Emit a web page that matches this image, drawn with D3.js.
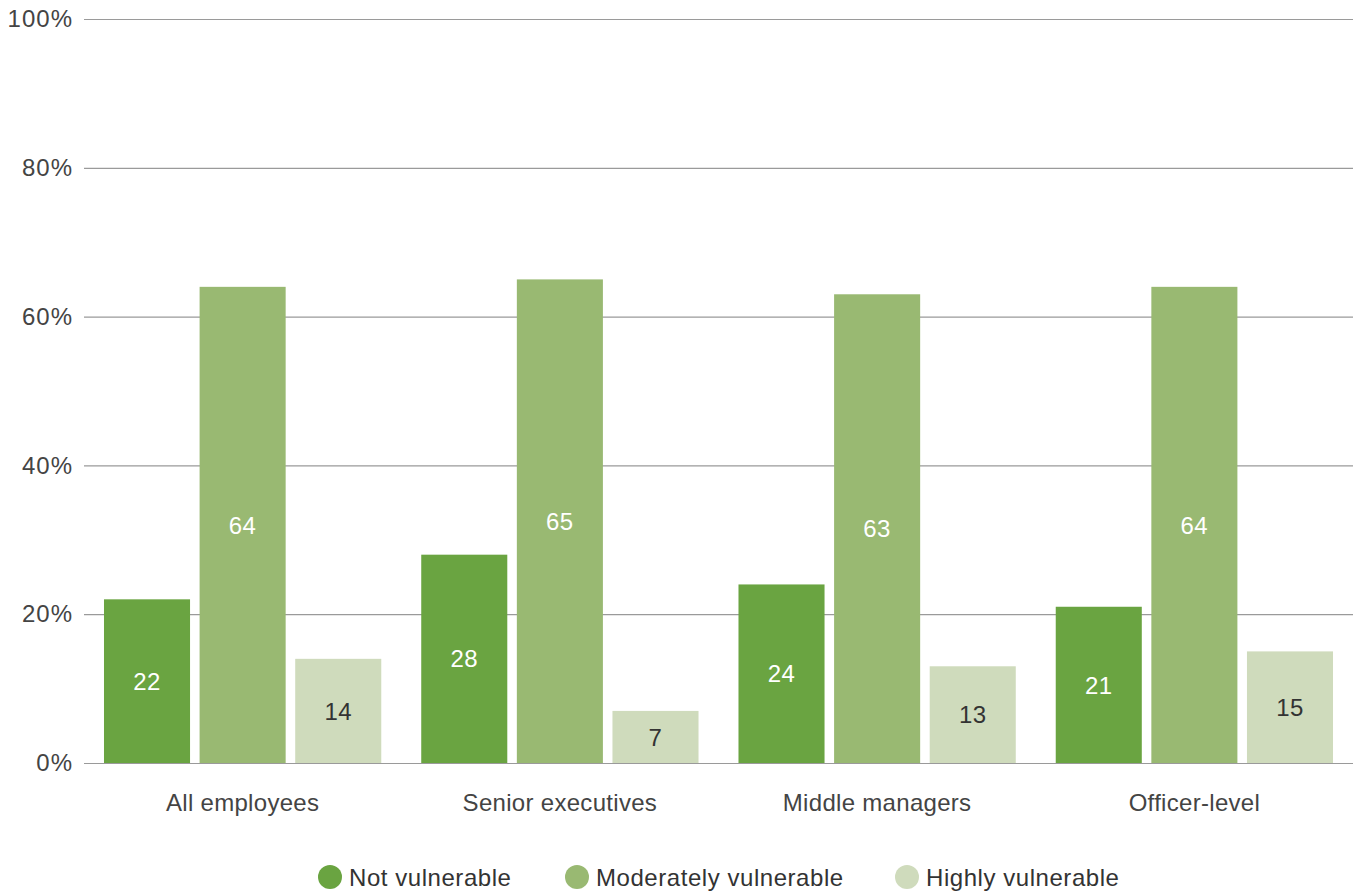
<!DOCTYPE html>
<html>
<head>
<meta charset="utf-8">
<script src="https://cdn.jsdelivr.net/npm/d3@7"></script>
<style>
  html, body { margin: 0; padding: 0; background: #fff; }
  svg { display: block; font-family: "Liberation Sans", Arial, Helvetica, sans-serif; }
</style>
</head>
<body>
<svg id="chart" width="1362" height="893"></svg>
<script>
// Share of employees by vulnerability level, per staff group (%)
const categories = ["All employees", "Senior executives", "Middle managers", "Officer-level"];
const seriesNames = ["Not vulnerable", "Moderately vulnerable", "Highly vulnerable"];
const notVulnerable = [22, 28, 24, 21];
const moderatelyVulnerable = [64, 65, 63, 64];
const highlyVulnerable = [14, 7, 13, 15];
const yTicks = [0, 20, 40, 60, 80, 100];

const seriesValues = [notVulnerable, moderatelyVulnerable, highlyVulnerable];
const colors = ["#6aa441", "#99b972", "#cfdbbc"];
const labelColors = ["#ffffff", "#ffffff", "#333333"];

const svg = d3.select("#chart");
const plotLeft = 84, plotRight = 1353, plotTop = 19, plotBottom = 763;

const x = d3.scaleBand().domain(categories).range([plotLeft, plotRight]).padding(0);
const xInner = d3.scaleBand().domain(seriesNames)
  .range([x.bandwidth() * 0.063, x.bandwidth() * 0.937]).paddingInner(0.1);
const y = d3.scaleLinear().domain([0, 100]).range([plotBottom, plotTop]);

// Gridlines and tick labels
const yAxis = d3.axisLeft(y).tickValues(yTicks)
  .tickSize(-(plotRight - plotLeft)).tickPadding(11)
  .tickFormat(d => d + "%");
const gy = svg.append("g").attr("transform", `translate(${plotLeft},0)`).call(yAxis);
gy.select(".domain").remove();
gy.selectAll(".tick line").attr("stroke", "#9a9a9a").attr("stroke-width", 1.2);
gy.selectAll(".tick text").attr("fill", "#444").attr("font-size", 24)
  .attr("letter-spacing", 1)
  .attr("font-family", "Liberation Sans, Arial, sans-serif");

// Bars
const groups = svg.append("g").selectAll("g").data(categories).join("g")
  .attr("transform", d => `translate(${x(d)},0)`);

seriesNames.forEach((s, si) => {
  groups.append("rect")
    .attr("x", xInner(s))
    .attr("width", xInner.bandwidth())
    .attr("y", (d, i) => y(seriesValues[si][i]))
    .attr("height", (d, i) => y(0) - y(seriesValues[si][i]))
    .attr("fill", colors[si]);
  groups.append("text")
    .attr("x", xInner(s) + xInner.bandwidth() / 2)
    .attr("y", (d, i) => (y(seriesValues[si][i]) + y(0)) / 2)
    .attr("dy", "0.36em")
    .attr("text-anchor", "middle")
    .attr("font-size", 24)
    .attr("letter-spacing", 0.5)
    .attr("fill", labelColors[si])
    .text((d, i) => seriesValues[si][i]);
});

// Category labels
const xAxis = d3.axisBottom(x).tickSize(0).tickPadding(31);
const gx = svg.append("g").attr("transform", `translate(0,${plotBottom})`).call(xAxis);
gx.select(".domain").remove();
gx.selectAll(".tick text").attr("fill", "#444").attr("font-size", 24)
  .attr("letter-spacing", 0.3)
  .attr("font-family", "Liberation Sans, Arial, sans-serif");

// Legend
const legendX = [330, 577, 907];
const legend = svg.append("g").selectAll("g").data(seriesNames).join("g")
  .attr("transform", (d, i) => `translate(${legendX[i]},877)`);
legend.append("circle").attr("r", 12).attr("fill", (d, i) => colors[i]);
legend.append("text").attr("x", 19).attr("dy", "0.36em")
  .attr("font-size", 24).attr("letter-spacing", 0.55)
  .attr("fill", "#333").text(d => d);
</script>
</body>
</html>
